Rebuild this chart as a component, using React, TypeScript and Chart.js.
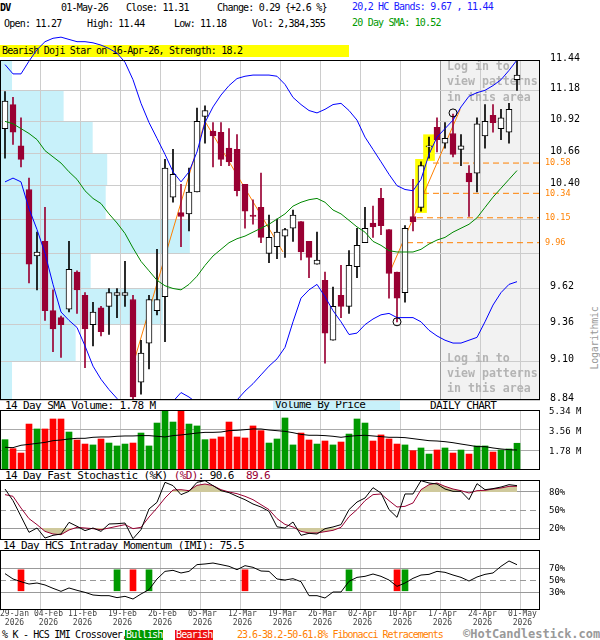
import React, { useEffect, useRef } from "react";
import { Chart, registerables } from "chart.js";

Chart.register(...registerables);

const FONT = '"DejaVu Sans Mono", "Liberation Mono", monospace';
const MAROON = "#990033";
const UP_VOL = "#009900";
const DOWN_VOL = "#ff0000";
const BAND = "#0000ff";
const SMA_GREEN = "#008800";
const FIB = "#ff8000";
const VBP_COLOR = "#c8f1fa";
const KHAKI = "#cfc99c";
const GRID = "#cccccc";
const GRID_DARK = "#999999";
const CLEAR = "rgba(0,0,0,0)";

// ---------- data ----------
const tickDates = ["29-Jan", "04-Feb", "11-Feb", "19-Feb", "26-Feb", "05-Mar", "12-Mar", "19-Mar", "26-Mar", "02-Apr", "10-Apr", "17-Apr", "24-Apr", "01-May"];
const tickIdx = [0, 4, 9, 14, 19, 24, 29, 34, 39, 44, 49, 54, 59, 64];
const tickYear = "2026";

const opens = [10.86, 11.06, 10.72, 10.37, 9.86, 9.97, 9.46, 9.41, 9.47, 9.74, 9.57, 9.36, 9.48, 9.49, 9.57, 9.57, 9.54, 8.96, 9.23, 9.46, 9.56, 10.31, 10.19, 10.18, 10.35, 10.96, 10.84, 10.83, 10.70, 10.69, 10.41, 10.17, 10.23, 9.88, 9.93, 10.01, 10.07, 10.12, 9.97, 9.80, 9.68, 9.25, 9.57, 9.49, 9.78, 9.96, 10.11, 10.30, 10.06, 9.74, 9.59, 10.16, 10.23, 10.71, 10.87, 10.74, 10.82, 10.69, 10.50, 10.50, 10.80, 10.97, 10.86, 10.83, 11.27];
const highs = [11.17, 11.12, 10.95, 10.46, 10.04, 10.23, 9.61, 9.42, 9.97, 9.75, 9.59, 9.52, 9.49, 9.62, 9.62, 9.82, 9.57, 9.25, 9.57, 9.91, 10.61, 10.69, 10.41, 10.54, 11.03, 11.05, 10.91, 10.91, 10.86, 10.81, 10.41, 10.29, 10.50, 10.17, 10.14, 10.07, 10.21, 10.12, 9.97, 10.04, 9.74, 9.63, 9.79, 9.90, 10.07, 10.23, 10.24, 10.38, 10.06, 9.74, 10.09, 10.45, 10.59, 10.79, 10.95, 10.91, 10.98, 10.81, 10.56, 10.95, 11.06, 11.06, 11.02, 11.07, 11.44];
const lows = [10.62, 10.73, 10.55, 9.66, 9.61, 9.39, 9.17, 9.13, 9.45, 9.44, 9.06, 9.21, 9.28, 9.29, 9.41, 9.49, 8.84, 8.88, 9.05, 9.43, 9.24, 10.27, 9.93, 10.05, 10.35, 10.74, 10.55, 10.56, 10.56, 10.32, 10.07, 10.10, 9.96, 9.81, 9.84, 9.85, 9.97, 9.83, 9.70, 9.80, 9.09, 9.25, 9.41, 9.44, 9.70, 9.96, 10.00, 10.02, 9.55, 9.38, 9.52, 10.05, 10.20, 10.62, 10.67, 10.70, 10.63, 10.56, 10.16, 10.35, 10.70, 10.83, 10.77, 10.74, 11.18];
const closes = [11.09, 10.83, 10.61, 9.80, 9.89, 9.46, 9.33, 9.36, 9.76, 9.61, 9.33, 9.45, 9.31, 9.59, 9.59, 9.59, 8.86, 9.16, 9.54, 9.54, 10.54, 10.49, 10.16, 10.35, 10.92, 11.01, 10.80, 10.61, 10.59, 10.36, 10.20, 10.16, 10.00, 10.00, 10.04, 10.06, 10.17, 9.89, 9.85, 9.83, 9.30, 9.49, 9.49, 9.79, 9.94, 10.07, 10.08, 10.09, 9.73, 9.55, 10.07, 10.12, 10.56, 10.72, 10.77, 10.78, 10.65, 10.72, 10.43, 10.90, 10.92, 10.91, 10.95, 11.02, 11.31];

const upperBand = [11.40, 11.32, 11.32, 11.43, 11.53, 11.60, 11.63, 11.64, 11.62, 11.60, 11.60, 11.59, 11.57, 11.54, 11.50, 11.42, 11.27, 11.07, 10.91, 10.78, 10.65, 10.51, 10.43, 10.51, 10.67, 10.91, 11.04, 11.14, 11.22, 11.28, 11.30, 11.31, 11.31, 11.31, 11.30, 11.23, 11.12, 11.06, 11.01, 10.99, 11.02, 11.06, 11.07, 11.01, 10.93, 10.79, 10.69, 10.59, 10.49, 10.40, 10.37, 10.36, 10.45, 10.65, 10.79, 10.86, 10.93, 11.04, 11.13, 11.16, 11.18, 11.22, 11.27, 11.35, 11.44];
const lowerBand = [10.43, 10.46, 10.43, 10.22, 10.06, 9.88, 9.65, 9.45, 9.39, 9.34, 9.21, 9.07, 8.98, 8.91, 8.85, 8.78, 8.72, 8.70, 8.72, 8.76, 8.80, 8.83, 8.89, 8.86, 8.82, 8.78, 8.77, 8.78, 8.81, 8.84, 8.90, 8.95, 9.01, 9.07, 9.12, 9.20, 9.38, 9.55, 9.61, 9.65, 9.56, 9.46, 9.38, 9.29, 9.30, 9.36, 9.40, 9.43, 9.44, 9.41, 9.41, 9.41, 9.38, 9.32, 9.28, 9.25, 9.23, 9.23, 9.25, 9.27, 9.38, 9.50, 9.59, 9.65, 9.67];
const sma20 = [10.92, 10.90, 10.86, 10.82, 10.77, 10.68, 10.63, 10.58, 10.51, 10.45, 10.36, 10.30, 10.26, 10.18, 10.11, 10.03, 9.92, 9.82, 9.75, 9.68, 9.64, 9.62, 9.61, 9.65, 9.71, 9.79, 9.86, 9.91, 9.96, 9.99, 10.01, 10.04, 10.07, 10.10, 10.14, 10.18, 10.24, 10.27, 10.29, 10.30, 10.27, 10.21, 10.18, 10.13, 10.08, 10.04, 9.97, 9.94, 9.90, 9.89, 9.89, 9.89, 9.91, 9.95, 9.98, 10.00, 10.04, 10.07, 10.10, 10.15, 10.23, 10.31, 10.38, 10.45, 10.52];

const volumes = [2.70, 1.90, 1.51, 4.09, 3.65, 3.65, 4.54, 4.54, 3.38, 2.67, 2.31, 2.23, 2.76, 2.40, 2.14, 2.31, 2.40, 3.29, 2.14, 4.18, 5.52, 4.27, 5.45, 4.09, 3.92, 2.70, 2.76, 2.94, 4.27, 2.94, 2.85, 3.92, 3.50, 2.40, 2.76, 4.63, 2.23, 3.29, 2.67, 2.31, 2.58, 2.23, 2.49, 3.20, 4.54, 4.18, 2.58, 3.12, 2.76, 2.31, 2.23, 1.72, 1.96, 1.42, 1.78, 1.96, 1.51, 1.78, 1.42, 2.14, 2.14, 1.60, 1.78, 1.87, 2.38];
const volSma = [2.02, 1.99, 2.20, 2.28, 2.37, 2.46, 2.61, 2.67, 2.76, 2.82, 2.82, 2.91, 2.94, 2.94, 3.00, 3.03, 3.03, 3.06, 3.06, 3.00, 2.94, 3.06, 3.12, 3.20, 3.29, 3.35, 3.35, 3.38, 3.50, 3.53, 3.59, 3.65, 3.65, 3.56, 3.50, 3.44, 3.32, 3.17, 3.09, 3.09, 3.06, 3.00, 2.91, 3.00, 3.06, 3.09, 3.03, 2.97, 2.91, 2.91, 2.88, 2.79, 2.70, 2.61, 2.58, 2.52, 2.43, 2.31, 2.20, 2.08, 2.08, 1.96, 1.87, 1.81, 1.78];
const volTicks = [1.78, 3.56, 5.34];

const stochK = [85.0, 65.6, 39.4, 12.8, 20.0, 3.3, 7.8, 10.0, 29.4, 22.8, 15.6, 20.0, 14.4, 26.7, 27.2, 28.3, 2.2, 17.2, 51.7, 62.8, 96.1, 90.6, 75.6, 81.1, 96.1, 98.9, 90.6, 82.2, 78.9, 72.8, 67.2, 60.0, 55.0, 47.8, 22.0, 20.0, 30.0, 7.8, 11.1, 10.0, 18.9, 21.7, 25.6, 50.6, 63.3, 70.0, 87.2, 78.3, 50.6, 37.8, 76.7, 76.7, 98.9, 95.0, 93.3, 85.0, 81.1, 81.1, 67.2, 93.9, 83.9, 85.6, 88.3, 92.2, 90.6];
const stochD = [75.6, 72.8, 53.3, 35.6, 25.6, 14.4, 10.0, 8.9, 16.7, 21.1, 20.0, 18.9, 17.2, 20.0, 22.8, 25.6, 18.9, 21.1, 38.3, 53.3, 70.0, 83.3, 83.9, 82.2, 91.1, 93.3, 90.6, 83.9, 80.0, 77.2, 72.8, 67.2, 58.9, 50.6, 35.6, 26.0, 21.7, 14.4, 11.7, 11.7, 13.9, 16.1, 21.1, 38.9, 50.6, 65.6, 75.6, 76.7, 65.6, 55.0, 56.1, 61.7, 83.9, 92.2, 95.0, 89.4, 85.0, 82.2, 78.3, 82.2, 82.8, 85.0, 86.7, 89.4, 89.6];
const stochTicks = [20, 50, 80];

const imi = [60.6, 51.7, 47.2, 43.3, 45.0, 41.7, 36.1, 31.1, 36.7, 32.8, 29.4, 25.0, 23.9, 23.9, 20.6, 22.8, 18.3, 26.7, 33.9, 51.7, 64.4, 66.1, 61.7, 64.4, 75.6, 76.7, 78.3, 75.6, 72.8, 67.2, 73.9, 71.1, 65.0, 64.4, 51.7, 50.0, 52.2, 47.2, 23.9, 23.9, 20.0, 30.0, 30.0, 47.8, 54.4, 56.1, 60.0, 56.1, 50.0, 39.4, 45.0, 52.8, 58.3, 59.4, 64.4, 62.8, 58.3, 54.4, 48.3, 55.0, 59.4, 61.7, 72.8, 81.7, 75.5];
const imiTicks = [30, 50, 70];
const bullishIdx = [14, 18, 43, 50];
const bearishIdx = [2, 16, 30, 49];
const crossLow = 32;
const crossHigh = 67;

const priceTicks = [8.84, 9.10, 9.36, 9.62, 9.88, 10.14, 10.40, 10.66, 10.92, 11.18, 11.44];
const hiddenPriceLabels = [9.88, 10.14];
const vbpVolume = [2.4, 15.1, 32.5, 18.1, 37.9, 21.1, 21.4, 18.5, 12.7, 2.4]; // M shares per price bin (bottom to top)
const vbpAxisMax = 98;

const fibLevels = [10.58, 10.34, 10.15, 9.96];
const fibStartIdx = [53.5, 52.25, 51.5, 50.25];
const swingA = [{ x: 16, y: 9.08 }, { x: 25, y: 10.92 }, { x: 34.75, y: 9.89 }];
const swingB = [{ x: 48.1, y: 9.74 }, { x: 56.9, y: 11.02 }];
const pivots = [{ x: 49, y: 9.38 }, { x: 56, y: 10.99 }];
const highlightIdx = [52, 53];
const highlightLow = [10.19, 10.60];
const highlightHigh = [10.61, 10.81];

// ---------- layout constants ----------
const X_MIN = -0.625;
const X_MAX = 66.875;
const PX_PER_BAR = 8;
const GRID_SHIFT = 0.375;
const SHADE_FROM = 54 + GRID_SHIFT;
const LABEL_W = 29;
const LABEL_GAP = 5;
const LABEL_SHIFT = 2.4;

const isUp = (i: number) => closes[i] >= opens[i];
const pts = (arr: number[]) => arr.map((y, i) => ({ x: i, y }));
const toPx = (v: number) => (v - X_MIN) * PX_PER_BAR;
const toVal = (px: number) => px / PX_PER_BAR + X_MIN;

// label centres: at the weekly gridline, pushed right when they would overlap
function labelValues(): number[] {
  const out: number[] = [];
  let prevRight = -Infinity;
  tickIdx.forEach((i) => {
    let c = toPx(i + GRID_SHIFT) + LABEL_SHIFT;
    c = Math.max(c, LABEL_W / 2, prevRight + LABEL_GAP + LABEL_W / 2);
    prevRight = c + LABEL_W / 2;
    out.push(toVal(c));
  });
  return out;
}

function xGrid(darkLine: boolean): any {
  return {
    type: "linear",
    min: X_MIN,
    max: X_MAX,
    bounds: "data",
    offset: false,
    afterBuildTicks: (s: any) => {
      s.ticks = tickIdx.slice(1).map((i) => ({ value: i + GRID_SHIFT }));
    },
    afterFit: (s: any) => {
      s.height = 0;
    },
    grid: {
      offset: false,
      drawTicks: false,
      color: (c: any) => (darkLine && c.tick && c.tick.value === SHADE_FROM ? GRID_DARK : GRID),
    },
    border: { display: false },
    ticks: { display: false },
  };
}

function xLabels(): any {
  const vals = labelValues();
  return {
    type: "linear",
    axis: "x",
    position: "bottom",
    min: X_MIN,
    max: X_MAX,
    bounds: "data",
    offset: false,
    afterBuildTicks: (s: any) => {
      s.ticks = vals.map((v) => ({ value: v }));
    },
    afterFit: (s: any) => {
      s.height = 22;
    },
    grid: { display: false, drawTicks: false, offset: false },
    border: { display: false },
    ticks: {
      autoSkip: false,
      maxRotation: 0,
      minRotation: 0,
      padding: 0,
      color: "#444",
      font: { family: FONT, size: 8, lineHeight: 1.1 },
      callback: (_v: any, i: number) => [tickDates[i], tickYear],
    },
  };
}

function panelY(min: number, max: number, ticks: number[], fmt: (v: number) => string, gridColor: string, dashAt: number | null, labelOffset: number): any {
  return {
    type: "linear",
    position: "right",
    min,
    max,
    bounds: "data",
    afterBuildTicks: (s: any) => {
      s.ticks = ticks.map((v) => ({ value: v }));
    },
    afterFit: (s: any) => {
      s.width = 60;
    },
    grid: { drawTicks: true, tickLength: 9, tickColor: CLEAR, color: gridColor },
    border: {
      display: false,
      dash: (c: any) => (dashAt !== null && c.tick && c.tick.value === dashAt ? [6, 4] : []),
    },
    ticks: {
      padding: 0,
      labelOffset,
      color: "#000",
      font: { family: FONT, size: 9 },
      callback: (v: any) => fmt(Number(v)),
    },
  };
}

const framePlugin = {
  id: "frame",
  afterDraw(chart: any) {
    const { ctx, chartArea: a } = chart;
    ctx.save();
    ctx.strokeStyle = "#000";
    ctx.lineWidth = 1;
    ctx.strokeRect(a.left + 0.5, a.top + 0.5, a.right - a.left - 1, a.bottom - a.top - 1);
    ctx.restore();
  },
};

const mainDecor = {
  id: "mainDecor",
  beforeDraw(chart: any) {
    const { ctx, chartArea: a, scales } = chart;
    const x = scales.x;
    const y = scales.y;
    const xv = scales.xv;
    ctx.save();
    const sx = x.getPixelForValue(SHADE_FROM);
    ctx.fillStyle = "#f2f2f2";
    ctx.fillRect(sx, a.top, a.right - sx, a.bottom - a.top);
    ctx.fillStyle = VBP_COLOR;
    vbpVolume.forEach((v, k) => {
      const y0 = y.getPixelForValue(priceTicks[k]);
      const y1 = y.getPixelForValue(priceTicks[k + 1]);
      const w = xv.getPixelForValue(v) - xv.getPixelForValue(0);
      ctx.fillRect(a.left, y1, w, y0 - y1);
    });
    ctx.restore();
  },
  beforeDatasetsDraw(chart: any) {
    const { ctx, chartArea: a, scales } = chart;
    const tx = scales.x.getPixelForValue(SHADE_FROM) + 7;
    ctx.save();
    ctx.font = `bold 11.6px ${FONT}`;
    ctx.fillStyle = "#b4b4b4";
    ctx.textBaseline = "middle";
    ctx.textAlign = "left";
    ["Log in to", "view patterns", "in this area"].forEach((s, k) => {
      ctx.fillText(s, tx, a.top + 7 + 15.3 * k);
      ctx.fillText(s, tx, a.bottom - 41 + 15 * k);
    });
    ctx.restore();
  },
  afterDraw(chart: any) {
    const { ctx, chartArea: a, scales } = chart;
    ctx.save();
    ctx.font = `8.5px ${FONT}`;
    ctx.fillStyle = FIB;
    ctx.textBaseline = "middle";
    ctx.textAlign = "left";
    fibLevels.forEach((lvl) => {
      ctx.fillText(lvl.toFixed(2), a.right + 5, scales.y.getPixelForValue(lvl));
    });
    ctx.restore();
  },
};

const baseOptions = (padding: any) => ({
  responsive: false,
  animation: false,
  events: [],
  layout: { autoPadding: false, padding },
  plugins: { legend: { display: false }, tooltip: { enabled: false } },
});

function mainConfig(): any {
  const lineDs = (data: any[], color: string, order: number, extra: any = {}) => ({
    type: "line",
    data,
    borderColor: color,
    borderWidth: 1,
    pointRadius: 0,
    tension: 0,
    fill: false,
    xAxisID: "x",
    yAxisID: "y",
    order,
    ...extra,
  });
  const fibSets = fibLevels.map((lvl, k) =>
    lineDs([{ x: fibStartIdx[k], y: lvl }, { x: X_MAX, y: lvl }], FIB, 9, { borderDash: [6, 4] })
  );
  return {
    type: "bar",
    data: {
      datasets: [
        {
          type: "bar",
          data: highlightIdx.map((i, k) => ({ x: i, y: [highlightLow[k], highlightHigh[k]] })),
          backgroundColor: "#ffff00",
          borderWidth: 0,
          barThickness: 11,
          grouped: false,
          borderSkipped: false,
          xAxisID: "x",
          yAxisID: "y",
          order: 12,
        },
        ...fibSets,
        lineDs(swingA, FIB, 9),
        lineDs(swingB, FIB, 9),
        {
          type: "bar",
          data: opens.map((_o, i) => ({ x: i, y: [lows[i], highs[i]] })),
          backgroundColor: opens.map((_o, i) => (isUp(i) ? "#000" : MAROON)),
          borderWidth: 0,
          barThickness: 1,
          grouped: false,
          borderSkipped: false,
          xAxisID: "x",
          yAxisID: "y",
          order: 8,
        },
        {
          type: "bar",
          data: opens.map((o, i) => ({ x: i, y: [o, closes[i]] })),
          backgroundColor: opens.map((_o, i) => (isUp(i) ? "#fff" : MAROON)),
          borderColor: opens.map((_o, i) => (isUp(i) ? "#000" : MAROON)),
          borderWidth: 1,
          barThickness: 6,
          grouped: false,
          borderSkipped: false,
          xAxisID: "x",
          yAxisID: "y",
          order: 7,
        },
        lineDs(pts(sma20), SMA_GREEN, 5),
        lineDs(pts(upperBand), BAND, 4, { clip: { left: 0, top: false, right: 0, bottom: 0 } }),
        lineDs(pts(lowerBand), BAND, 4),
        {
          type: "line",
          data: pivots,
          showLine: false,
          pointRadius: 4,
          pointStyle: "circle",
          pointBackgroundColor: "rgba(255,255,255,0)",
          pointBorderColor: "#000",
          pointBorderWidth: 1,
          xAxisID: "x",
          yAxisID: "y",
          order: 0,
        },
      ],
    },
    options: {
      ...baseOptions({ top: 60, bottom: 6, left: 0, right: 0 }),
      scales: {
        x: xGrid(true),
        xv: {
          type: "linear",
          axis: "x",
          position: "bottom",
          display: false,
          min: 0,
          max: vbpAxisMax,
          bounds: "data",
          afterFit: (s: any) => {
            s.height = 0;
          },
          grid: { display: false, drawTicks: false },
          ticks: { display: false },
        },
        y: {
          type: "logarithmic",
          position: "right",
          min: priceTicks[0],
          max: priceTicks[priceTicks.length - 1],
          bounds: "data",
          afterBuildTicks: (s: any) => {
            s.ticks = priceTicks.map((v) => ({ value: v }));
          },
          afterFit: (s: any) => {
            s.width = 60;
          },
          grid: { drawTicks: true, tickLength: 10, tickColor: CLEAR, color: GRID },
          border: { display: false },
          ticks: {
            padding: 0,
            labelOffset: -2,
            color: "#000",
            font: { family: FONT, size: 10 },
            callback: (v: any) => {
              const n = Number(v);
              return hiddenPriceLabels.some((h) => Math.abs(h - n) < 0.001) ? "" : n.toFixed(2);
            },
          },
        },
      },
    },
    plugins: [mainDecor, framePlugin],
  };
}

function volConfig(): any {
  return {
    type: "bar",
    data: {
      datasets: [
        { type: "line", data: pts(volSma), borderColor: "#000", borderWidth: 1, pointRadius: 0, tension: 0, order: 0 },
        {
          type: "bar",
          data: pts(volumes),
          backgroundColor: volumes.map((_v, i) => (isUp(i) ? UP_VOL : DOWN_VOL)),
          borderWidth: 0,
          barThickness: 6,
          grouped: false,
          order: 1,
        },
      ],
    },
    options: {
      ...baseOptions({ top: 6, bottom: 6, left: 0, right: 0 }),
      scales: {
        x: xGrid(false),
        y: panelY(0, volTicks[2], volTicks, (v) => v.toFixed(2) + " M", "#aaaaaa", null, 2),
      },
    },
    plugins: [framePlugin],
  };
}

function stochConfig(): any {
  const base = { type: "line", borderWidth: 1, pointRadius: 0, tension: 0 };
  return {
    type: "line",
    data: {
      datasets: [
        { ...base, data: pts(stochK), borderColor: "#000", fill: false, order: 0 },
        { ...base, data: pts(stochD), borderColor: MAROON, fill: false, order: 1 },
        { ...base, data: pts(stochD), borderWidth: 0, borderColor: CLEAR, fill: { target: { value: 80 }, above: KHAKI, below: CLEAR }, order: 3 },
        { ...base, data: pts(stochD), borderWidth: 0, borderColor: CLEAR, fill: { target: { value: 20 }, above: CLEAR, below: KHAKI }, order: 3 },
      ],
    },
    options: {
      ...baseOptions({ top: 6, bottom: 6, left: 0, right: 0 }),
      scales: {
        x: xGrid(false),
        y: panelY(0, 100, stochTicks, (v) => v + "%", GRID_DARK, 50, 0.5),
      },
    },
    plugins: [framePlugin],
  };
}

function imiConfig(): any {
  const crossDs = (idx: number[], color: string) => ({
    type: "bar",
    data: idx.map((i) => ({ x: i, y: [crossLow, crossHigh] })),
    backgroundColor: color,
    borderWidth: 0,
    barThickness: 6,
    grouped: false,
    borderSkipped: false,
    xAxisID: "x",
    yAxisID: "y",
    order: 2,
  });
  return {
    type: "bar",
    data: {
      datasets: [
        { type: "line", data: pts(imi), borderColor: "#000", borderWidth: 1, pointRadius: 0, tension: 0, xAxisID: "x", yAxisID: "y", order: 0 },
        crossDs(bullishIdx, UP_VOL),
        crossDs(bearishIdx, DOWN_VOL),
      ],
    },
    options: {
      ...baseOptions({ top: 6, bottom: 0, left: 0, right: 0 }),
      scales: {
        x: xGrid(false),
        xl: xLabels(),
        y: panelY(0, 100, imiTicks, (v) => v + "%", GRID_DARK, 50, 0.5),
      },
    },
    plugins: [framePlugin],
  };
}

const Txt = ({ x, y, size = 10, ls = -0.8, color = "#000", bold = false, lh = 12, children }: any) => (
  <div
    style={{
      position: "absolute",
      left: x,
      top: y,
      fontSize: size,
      letterSpacing: ls,
      lineHeight: lh + "px",
      color,
      fontWeight: bold ? "bold" : "normal",
      whiteSpace: "pre",
      fontFamily: FONT,
    }}
  >
    {children}
  </div>
);

export default function App() {
  const mainRef = useRef<HTMLCanvasElement>(null);
  const volRef = useRef<HTMLCanvasElement>(null);
  const stochRef = useRef<HTMLCanvasElement>(null);
  const imiRef = useRef<HTMLCanvasElement>(null);

  useEffect(() => {
    document.body.style.margin = "0";
    const charts = [
      new Chart(mainRef.current as HTMLCanvasElement, mainConfig()),
      new Chart(volRef.current as HTMLCanvasElement, volConfig()),
      new Chart(stochRef.current as HTMLCanvasElement, stochConfig()),
      new Chart(imiRef.current as HTMLCanvasElement, imiConfig()),
    ];
    return () => charts.forEach((c) => c.destroy());
  }, []);

  const cv = (top: number, h: number): any => ({ position: "absolute", left: 0, top, width: 600, height: h });

  return (
    <div style={{ position: "relative", width: 600, height: 640, background: "#fff", overflow: "hidden", fontFamily: FONT }}>
      {/* header */}
      <Txt x={0} y={2} bold>DV</Txt>
      <Txt x={61} y={2}>01-May-26</Txt>
      <Txt x={126} y={2}>Close: 11.31</Txt>
      <Txt x={217} y={2}>Change: 0.29 {"{"}+2.6 %{"}"}</Txt>
      <Txt x={352} y={0.5} color="#1a1aff">20,2 HC Bands: 9.67 , 11.44</Txt>
      <Txt x={4} y={18}>Open: 11.27</Txt>
      <Txt x={87} y={18}>High: 11.44</Txt>
      <Txt x={174} y={18}>Low: 11.18</Txt>
      <Txt x={252} y={18}>Vol: 2,384,355</Txt>
      <Txt x={352} y={16.5} color="#009900">20 Day SMA: 10.52</Txt>
      <div style={{ position: "absolute", left: 0, top: 45, width: 349, height: 12, background: "#ffff00" }} />
      <Txt x={2} y={45}>Bearish Doji Star on 16-Apr-26, Strength: 18.2</Txt>

      {/* panel titles */}
      <div style={{ position: "absolute", left: 273, top: 400, width: 127, height: 10, background: VBP_COLOR }} />
      <Txt x={275} y={399} size={11} ls={-0.6} lh={12}>Volume By Price</Txt>
      <Txt x={5} y={399.5} size={11} ls={-0.6}>14 Day SMA Volume: 1.78 M</Txt>
      <Txt x={430} y={400} size={11} ls={-0.6}>DAILY CHART</Txt>
      <Txt x={5} y={469.5} size={11} ls={-0.6}>
        14 Day Fast Stochastic (%K) <span style={{ color: MAROON }}>(%D)</span>: 90.6  <span style={{ color: MAROON }}>89.6</span>
      </Txt>
      <Txt x={3} y={540} size={11} ls={-0.6}>14 Day HCS Intraday Momentum (IMI): 75.5</Txt>

      {/* y-axis caption */}
      <div
        style={{
          position: "absolute",
          left: 594,
          top: 338,
          transform: "translate(-50%, -50%) rotate(-90deg)",
          fontSize: 10,
          letterSpacing: -0.3,
          color: "#999",
          fontFamily: FONT,
          whiteSpace: "pre",
        }}
      >
        Logarithmic
      </div>

      {/* legend row */}
      <Txt x={2} y={629}>% K - HCS IMI Crossover,</Txt>
      <div style={{ position: "absolute", left: 125, top: 630, width: 38, height: 10, background: "#009900" }} />
      <Txt x={126} y={629} color="#fff">Bullish</Txt>
      <div style={{ position: "absolute", left: 175, top: 630, width: 38, height: 10, background: "#ee1111" }} />
      <Txt x={176} y={629} color="#fff">Bearish</Txt>
      <Txt x={237} y={629} color={FIB} ls={-1}>23.6-38.2-50-61.8% Fibonacci Retracements</Txt>
      <Txt x={463} y={627} size={12} ls={0} lh={14} bold color="#999">©HotCandlestick.com</Txt>

      {/* charts */}
      <canvas ref={mainRef} width={600} height={406} style={cv(0, 406)} />
      <canvas ref={volRef} width={600} height={72} style={cv(404, 72)} />
      <canvas ref={stochRef} width={600} height={72} style={cv(474, 72)} />
      <canvas ref={imiRef} width={600} height={88} style={cv(544, 88)} />
    </div>
  );
}
